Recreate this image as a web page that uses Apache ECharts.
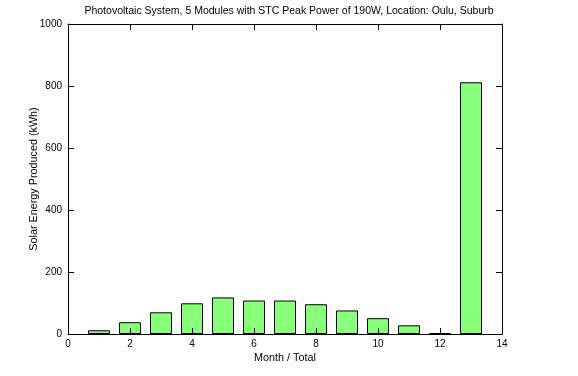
<!DOCTYPE html>
<html>
<head>
<meta charset="utf-8">
<script src="https://cdn.jsdelivr.net/npm/echarts@6/dist/echarts.min.js"></script>
<style>html,body{margin:0;padding:0;background:#fff;}#c{width:578px;height:376px;}</style>
</head>
<body>
<div id="c"></div>
<script>
var titleText = 'Photovoltaic System, 5 Modules with STC Peak Power of 190W, Location: Oulu, Suburb';
var xName = 'Month / Total';
var yName = 'Solar Energy Produced (kWh)';
var positions = [1, 2, 3, 4, 5, 6, 7, 8, 9, 10, 11, 12, 13];
var energy = [12, 38, 70, 99, 118, 108, 108, 96, 76, 51, 28, 3, 812];

var chart = echarts.init(document.getElementById('c'), null, {renderer: 'canvas'});
var font = 'Arial, "Liberation Sans", Helvetica, sans-serif';
var data = positions.map(function (p, i) { return [p, energy[i]]; });
function common() {
  return {
    z: 5,
    axisLine: {show: true, onZero: false, lineStyle: {color: '#000', width: 1}},
    axisTick: {show: true, inside: true, length: 6, lineStyle: {color: '#000'}},
    splitLine: {show: false}
  };
}
chart.setOption({
  animation: false,
  title: {text: titleText, left: 'center', top: 1,
    textStyle: {fontFamily: font, fontSize: 10.5, fontWeight: 'normal', color: '#000'}},
  grid: {left: 68, right: 76, top: 24, bottom: 42, show: false},
  xAxis: [
    Object.assign({type: 'value', min: 0, max: 14, interval: 2, position: 'bottom',
      name: xName, nameLocation: 'middle', nameGap: 19, nameMoveOverlap: false,
      nameTextStyle: {fontFamily: font, fontSize: 10.8, color: '#000'},
      axisLabel: {fontFamily: font, fontSize: 10, color: '#000', margin: 5}}, common()),
    Object.assign({type: 'value', min: 0, max: 14, interval: 2, position: 'top',
      axisLabel: {show: false}}, common())
  ],
  yAxis: [
    Object.assign({type: 'value', min: 0, max: 1000, interval: 200, position: 'left',
      name: yName, nameLocation: 'middle', nameGap: 28, nameMoveOverlap: false,
      nameTextStyle: {fontFamily: font, fontSize: 10.8, color: '#000'},
      axisLabel: {fontFamily: font, fontSize: 10, color: '#000', margin: 6,
        formatter: function (v) { return String(v); }}}, common()),
    Object.assign({type: 'value', min: 0, max: 1000, interval: 200, position: 'right',
      axisLabel: {show: false}}, common())
  ],
  series: [{
    type: 'bar', xAxisIndex: 0, yAxisIndex: 0, data: data, barWidth: 22, z: 2,
    itemStyle: {color: '#88ff78', borderColor: '#000', borderWidth: 1}
  }]
});
</script>
</body>
</html>
